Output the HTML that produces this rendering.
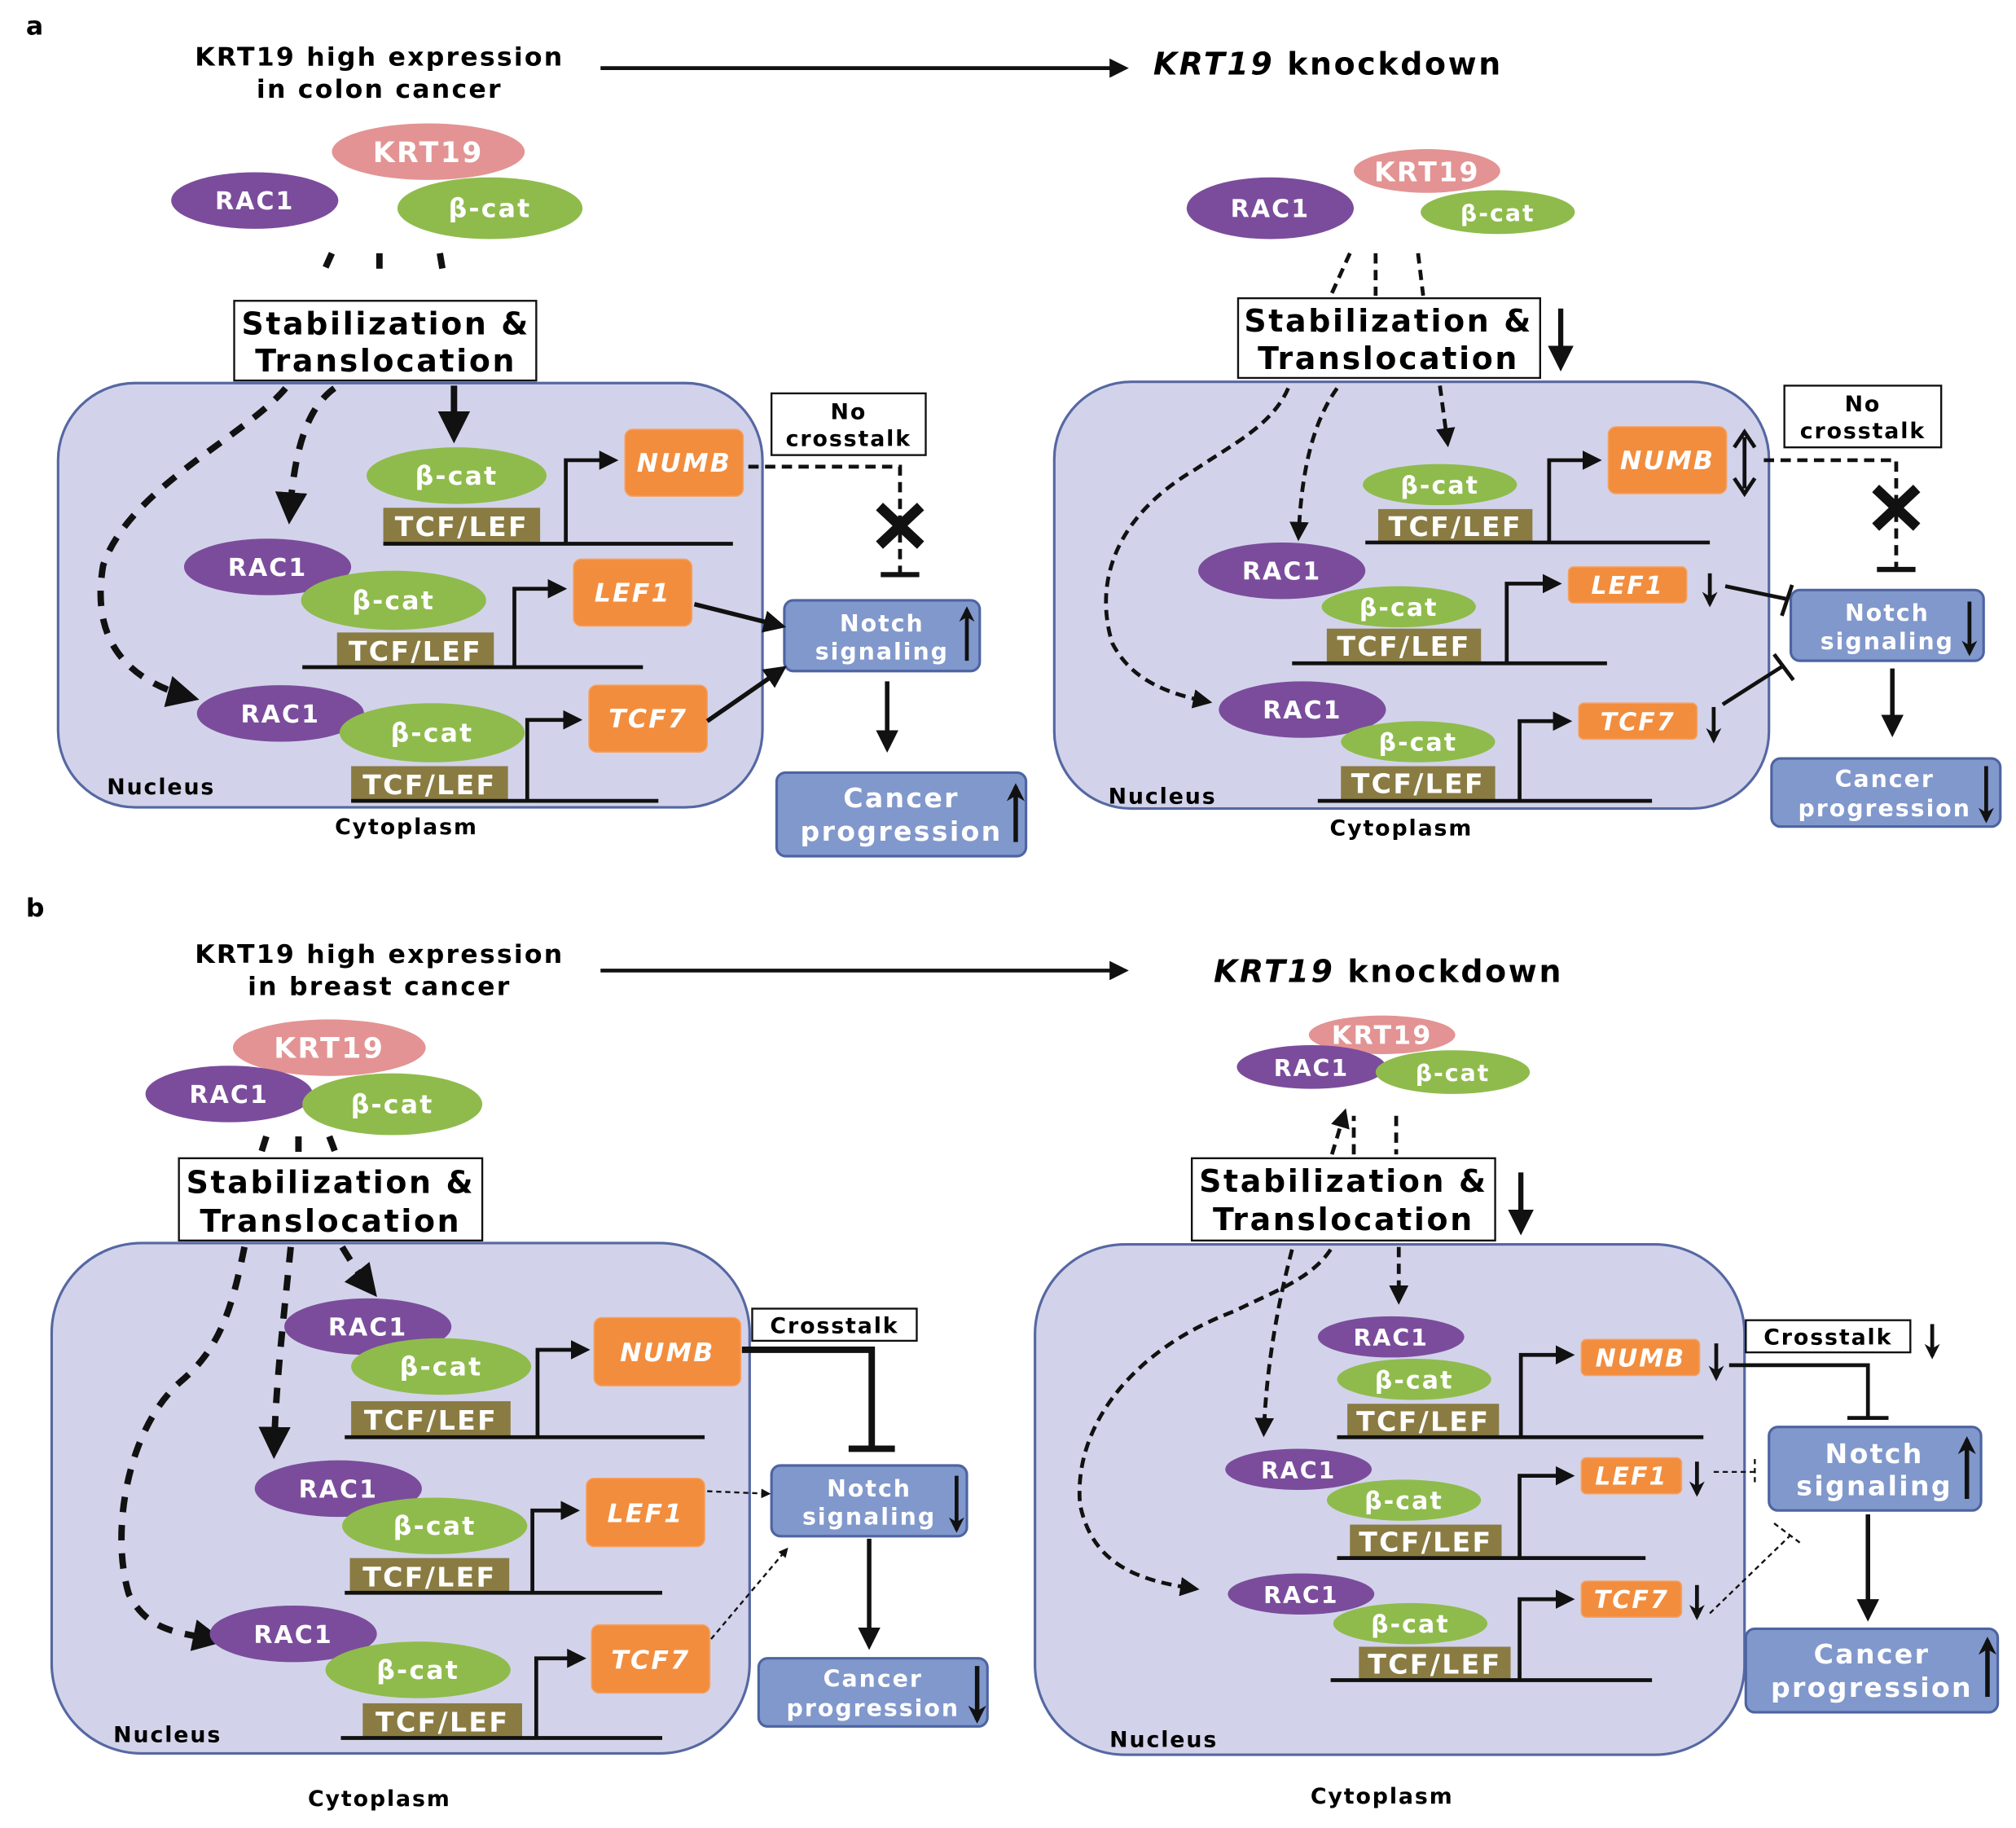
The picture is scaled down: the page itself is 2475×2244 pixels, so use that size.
<!DOCTYPE html>
<html><head><meta charset="utf-8"><style>
html,body{margin:0;padding:0;background:#fff}
svg{display:block}
text{font-family:"DejaVu Sans","Liberation Sans",sans-serif;font-weight:bold;letter-spacing:0.07em}
.nuc{fill:#d2d3ea;stroke:#5668a2;stroke-width:2}
.rac{fill:#7b4c9c}.bc{fill:#8fbb4c}.krt{fill:#e39393}
.tcf{fill:#8a7b42}
.org{fill:#f28d3e;stroke:#f6a060;stroke-width:1}
.blu{fill:#8198cc;stroke:#4d64a2;stroke-width:2}
.wt{fill:#fff}
.ln{stroke:#111;stroke-width:3;fill:none}
.ds{stroke:#111;stroke-width:5;fill:none;stroke-dasharray:12 10}
.ds2{stroke:#111;stroke-width:3;fill:none;stroke-dasharray:8 5}
.dt{stroke:#111;stroke-width:1.5;fill:none;stroke-dasharray:4 3}
.box{fill:#fff;stroke:#111;stroke-width:1.5}
</style></head><body>
<svg width="2475" height="2244" viewBox="0 0 1568 1422" xmlns="http://www.w3.org/2000/svg">
<defs>
<marker id="ah" viewBox="0 0 10 10" refX="8" refY="5" markerWidth="5" markerHeight="5" orient="auto"><path d="M0,0 L10,5 L0,10 z" fill="#111"/></marker>
<marker id="av" viewBox="0 0 10 10" refX="8" refY="5" markerWidth="4" markerHeight="4" orient="auto"><path d="M0,0 L10,5 L0,10 L3,5 z" fill="#111"/></marker>
</defs>

<!-- ===== PANEL A ===== -->
<text x="20" y="27" font-size="20">a</text>
<text x="295" y="51" font-size="20" text-anchor="middle">KRT19 high expression</text>
<text x="295" y="76" font-size="20" text-anchor="middle">in colon cancer</text>
<line x1="467" y1="53" x2="875" y2="53" class="ln" marker-end="url(#ah)"/>
<text x="897" y="58" font-size="24"><tspan font-style="italic">KRT19</tspan> knockdown</text>

<!-- a left -->
<ellipse cx="333" cy="118" rx="75" ry="22" class="krt"/><text x="333" y="126" font-size="22" class="wt" text-anchor="middle">KRT19</text>
<ellipse cx="198" cy="156" rx="65" ry="22" class="rac"/><text x="198" y="163" font-size="19" class="wt" text-anchor="middle">RAC1</text>
<ellipse cx="381" cy="162" rx="72" ry="24" class="bc"/><text x="381" y="169" font-size="20" class="wt" text-anchor="middle">β-cat</text>
<line x1="258" y1="197" x2="250" y2="215" class="ds"/>
<line x1="295" y1="197" x2="295" y2="215" class="ds"/>
<line x1="342" y1="197" x2="345" y2="215" class="ds"/>
<rect x="45" y="298" width="548" height="330" rx="60" class="nuc"/>
<rect x="182" y="234" width="235" height="62" class="box"/>
<text x="300" y="260" font-size="24" text-anchor="middle">Stabilization &amp;</text>
<text x="300" y="289" font-size="24" text-anchor="middle">Translocation</text>
<path d="M222,302 C190,340 100,380 80,440 C70,500 100,530 150,543" class="ds" marker-end="url(#ah)"/>
<path d="M260,302 C235,320 228,360 225,403" class="ds" marker-end="url(#ah)"/>
<line x1="353" y1="300" x2="353" y2="340" stroke="#111" stroke-width="5" marker-end="url(#ah)"/>

<ellipse cx="355" cy="370" rx="70" ry="22" class="bc"/><text x="355" y="377" font-size="20" class="wt" text-anchor="middle">β-cat</text>
<rect x="298" y="395" width="122" height="28" class="tcf"/><text x="359" y="417" font-size="21" class="wt" text-anchor="middle">TCF/LEF</text>
<line x1="298" y1="423" x2="570" y2="423" class="ln"/>
<path d="M440,423 V358 H478" class="ln" marker-end="url(#ah)"/>
<rect x="486" y="334" width="92" height="52" rx="6" class="org"/><text x="532" y="367" font-size="20" font-style="italic" class="wt" text-anchor="middle">NUMB</text>

<ellipse cx="208" cy="441" rx="65" ry="22" class="rac"/><text x="208" y="448" font-size="19" class="wt" text-anchor="middle">RAC1</text>
<ellipse cx="306" cy="467" rx="72" ry="23" class="bc"/><text x="306" y="474" font-size="20" class="wt" text-anchor="middle">β-cat</text>
<rect x="262" y="492" width="122" height="28" class="tcf"/><text x="323" y="514" font-size="21" class="wt" text-anchor="middle">TCF/LEF</text>
<line x1="235" y1="519" x2="500" y2="519" class="ln"/>
<path d="M400,519 V458 H438" class="ln" marker-end="url(#ah)"/>
<rect x="446" y="435" width="92" height="52" rx="6" class="org"/><text x="492" y="468" font-size="20" font-style="italic" class="wt" text-anchor="middle">LEF1</text>

<ellipse cx="218" cy="555" rx="65" ry="22" class="rac"/><text x="218" y="562" font-size="19" class="wt" text-anchor="middle">RAC1</text>
<ellipse cx="336" cy="570" rx="72" ry="23" class="bc"/><text x="336" y="577" font-size="20" class="wt" text-anchor="middle">β-cat</text>
<rect x="273" y="596" width="122" height="28" class="tcf"/><text x="334" y="618" font-size="21" class="wt" text-anchor="middle">TCF/LEF</text>
<line x1="273" y1="623" x2="512" y2="623" class="ln"/>
<path d="M410,623 V560 H450" class="ln" marker-end="url(#ah)"/>
<rect x="458" y="533" width="92" height="52" rx="6" class="org"/><text x="504" y="566" font-size="20" font-style="italic" class="wt" text-anchor="middle">TCF7</text>
<text x="83" y="618" font-size="17">Nucleus</text>
<text x="316" y="649" font-size="17" text-anchor="middle">Cytoplasm</text>

<rect x="600" y="306" width="120" height="48" class="box"/>
<text x="660" y="326" font-size="17" text-anchor="middle">No</text><text x="660" y="347" font-size="17" text-anchor="middle">crosstalk</text>
<path d="M582,363 H700 V447" class="ds2"/>
<line x1="685" y1="447" x2="715" y2="447" stroke="#111" stroke-width="4"/>
<path d="M684,394 L716,424 M716,394 L684,424" stroke="#111" stroke-width="8"/>
<rect x="610" y="467" width="152" height="55" rx="7" class="blu"/>
<text x="686" y="491" font-size="18" class="wt" text-anchor="middle">Notch</text><text x="686" y="513" font-size="18" class="wt" text-anchor="middle">signaling</text>
<line x1="752" y1="514" x2="752" y2="474" stroke="#111" stroke-width="3" marker-end="url(#av)"/>
<line x1="540" y1="470" x2="608" y2="487" stroke="#111" stroke-width="3.5" marker-end="url(#ah)"/>
<line x1="550" y1="561" x2="609" y2="520" stroke="#111" stroke-width="3.5" marker-end="url(#ah)"/>
<line x1="690" y1="530" x2="690" y2="582" stroke="#111" stroke-width="3.5" marker-end="url(#ah)"/>
<rect x="604" y="601" width="194" height="65" rx="7" class="blu"/>
<text x="701" y="628" font-size="21" class="wt" text-anchor="middle">Cancer</text><text x="701" y="654" font-size="21" class="wt" text-anchor="middle">progression</text>
<line x1="790" y1="655" x2="790" y2="612" stroke="#111" stroke-width="3.5" marker-end="url(#av)"/>

<!-- a right -->
<ellipse cx="1110" cy="133" rx="57" ry="17" class="krt"/><text x="1110" y="141" font-size="21" class="wt" text-anchor="middle">KRT19</text>
<ellipse cx="988" cy="162" rx="65" ry="24" class="rac"/><text x="988" y="169" font-size="19" class="wt" text-anchor="middle">RAC1</text>
<ellipse cx="1165" cy="165" rx="60" ry="17" class="bc"/><text x="1165" y="172" font-size="18" class="wt" text-anchor="middle">β-cat</text>
<line x1="1050" y1="197" x2="1036" y2="228" class="ds2" stroke-width="4"/>
<line x1="1070" y1="197" x2="1070" y2="230" class="ds2" stroke-width="4"/>
<line x1="1103" y1="197" x2="1107" y2="230" class="ds2" stroke-width="4"/>
<rect x="820" y="297" width="556" height="332" rx="60" class="nuc"/>
<rect x="963" y="232" width="235" height="62" class="box"/>
<text x="1080" y="258" font-size="24" text-anchor="middle">Stabilization &amp;</text>
<text x="1080" y="287" font-size="24" text-anchor="middle">Translocation</text>
<line x1="1214" y1="240" x2="1214" y2="285" stroke="#111" stroke-width="4" marker-end="url(#ah)"/>
<path d="M1002,302 C990,330 960,345 930,365 C870,400 850,450 865,500 C880,530 910,540 940,546" class="ds2" stroke-width="4" marker-end="url(#ah)"/>
<path d="M1040,302 C1020,330 1012,370 1010,418" class="ds2" stroke-width="4" marker-end="url(#ah)"/>
<line x1="1120" y1="300" x2="1126" y2="345" class="ds2" stroke-width="4" marker-end="url(#ah)"/>

<ellipse cx="1120" cy="377" rx="60" ry="16" class="bc"/><text x="1120" y="384" font-size="19" class="wt" text-anchor="middle">β-cat</text>
<rect x="1072" y="396" width="120" height="26" class="tcf"/><text x="1132" y="417" font-size="21" class="wt" text-anchor="middle">TCF/LEF</text>
<line x1="1062" y1="422" x2="1330" y2="422" class="ln"/>
<path d="M1205,422 V358 H1243" class="ln" marker-end="url(#ah)"/>
<rect x="1251" y="332" width="92" height="52" rx="6" class="org"/><text x="1297" y="365" font-size="20" font-style="italic" class="wt" text-anchor="middle">NUMB</text>
<path d="M1357,340 V380 M1349,348 L1357,336 L1365,348 M1349,372 L1357,384 L1365,372" stroke="#111" stroke-width="3" fill="none"/>

<ellipse cx="997" cy="444" rx="65" ry="22" class="rac"/><text x="997" y="451" font-size="19" class="wt" text-anchor="middle">RAC1</text>
<ellipse cx="1088" cy="472" rx="60" ry="16" class="bc"/><text x="1088" y="479" font-size="19" class="wt" text-anchor="middle">β-cat</text>
<rect x="1032" y="489" width="120" height="26" class="tcf"/><text x="1092" y="510" font-size="21" class="wt" text-anchor="middle">TCF/LEF</text>
<line x1="1005" y1="516" x2="1250" y2="516" class="ln"/>
<path d="M1172,516 V454 H1212" class="ln" marker-end="url(#ah)"/>
<rect x="1220" y="441" width="92" height="28" rx="4" class="org"/><text x="1266" y="462" font-size="19" font-style="italic" class="wt" text-anchor="middle">LEF1</text>
<line x1="1330" y1="446" x2="1330" y2="470" stroke="#111" stroke-width="3" marker-end="url(#av)"/>

<ellipse cx="1013" cy="552" rx="65" ry="22" class="rac"/><text x="1013" y="559" font-size="19" class="wt" text-anchor="middle">RAC1</text>
<ellipse cx="1103" cy="577" rx="60" ry="16" class="bc"/><text x="1103" y="584" font-size="19" class="wt" text-anchor="middle">β-cat</text>
<rect x="1043" y="596" width="120" height="26" class="tcf"/><text x="1103" y="617" font-size="21" class="wt" text-anchor="middle">TCF/LEF</text>
<line x1="1025" y1="623" x2="1285" y2="623" class="ln"/>
<path d="M1182,623 V561 H1220" class="ln" marker-end="url(#ah)"/>
<rect x="1228" y="547" width="92" height="28" rx="4" class="org"/><text x="1274" y="568" font-size="19" font-style="italic" class="wt" text-anchor="middle">TCF7</text>
<line x1="1333" y1="550" x2="1333" y2="576" stroke="#111" stroke-width="3" marker-end="url(#av)"/>
<text x="862" y="625" font-size="17">Nucleus</text>
<text x="1090" y="650" font-size="17" text-anchor="middle">Cytoplasm</text>

<rect x="1388" y="300" width="122" height="48" class="box"/>
<text x="1449" y="320" font-size="17" text-anchor="middle">No</text><text x="1449" y="341" font-size="17" text-anchor="middle">crosstalk</text>
<path d="M1372,358 H1475 V443" class="ds2"/>
<line x1="1460" y1="443" x2="1490" y2="443" stroke="#111" stroke-width="4"/>
<path d="M1459,380 L1491,410 M1491,380 L1459,410" stroke="#111" stroke-width="8"/>
<rect x="1393" y="459" width="150" height="55" rx="7" class="blu"/>
<text x="1468" y="483" font-size="18" class="wt" text-anchor="middle">Notch</text><text x="1468" y="505" font-size="18" class="wt" text-anchor="middle">signaling</text>
<line x1="1532" y1="468" x2="1532" y2="508" stroke="#111" stroke-width="3" marker-end="url(#av)"/>
<path d="M1342,456 L1390,466 M1394,455 L1386,479" stroke="#111" stroke-width="3" fill="none"/>
<path d="M1340,548 L1387,518 M1380,509 L1395,529" stroke="#111" stroke-width="3" fill="none"/>
<line x1="1472" y1="520" x2="1472" y2="570" stroke="#111" stroke-width="3.5" marker-end="url(#ah)"/>
<rect x="1378" y="590" width="178" height="53" rx="7" class="blu"/>
<text x="1466" y="612" font-size="18" class="wt" text-anchor="middle">Cancer</text><text x="1466" y="635" font-size="18" class="wt" text-anchor="middle">progression</text>
<line x1="1545" y1="596" x2="1545" y2="638" stroke="#111" stroke-width="3" marker-end="url(#av)"/>

<!-- ===== PANEL B ===== -->
<text x="20" y="713" font-size="20">b</text>
<text x="295" y="749" font-size="20" text-anchor="middle">KRT19 high expression</text>
<text x="295" y="774" font-size="20" text-anchor="middle">in breast cancer</text>
<line x1="467" y1="755" x2="875" y2="755" class="ln" marker-end="url(#ah)"/>
<text x="944" y="764" font-size="24"><tspan font-style="italic">KRT19</tspan> knockdown</text>

<!-- b left -->
<ellipse cx="256" cy="815" rx="75" ry="22" class="krt"/><text x="256" y="823" font-size="22" class="wt" text-anchor="middle">KRT19</text>
<ellipse cx="178" cy="851" rx="65" ry="22" class="rac"/><text x="178" y="858" font-size="19" class="wt" text-anchor="middle">RAC1</text>
<ellipse cx="305" cy="859" rx="70" ry="24" class="bc"/><text x="305" y="866" font-size="20" class="wt" text-anchor="middle">β-cat</text>
<line x1="207" y1="884" x2="202" y2="900" class="ds"/>
<line x1="232" y1="884" x2="232" y2="900" class="ds"/>
<line x1="256" y1="884" x2="262" y2="900" class="ds"/>
<rect x="40" y="967" width="543" height="397" rx="70" class="nuc"/>
<rect x="139" y="901" width="236" height="64" class="box"/>
<text x="257" y="928" font-size="24" text-anchor="middle">Stabilization &amp;</text>
<text x="257" y="958" font-size="24" text-anchor="middle">Translocation</text>
<path d="M190,970 C180,1020 170,1050 140,1075 C100,1110 85,1190 100,1240 C115,1270 140,1270 170,1276" class="ds" marker-end="url(#ah)"/>
<path d="M226,970 C220,1030 214,1080 213,1130" class="ds" marker-end="url(#ah)"/>
<path d="M266,970 C275,985 282,995 290,1005" class="ds" marker-end="url(#ah)"/>

<ellipse cx="286" cy="1032" rx="65" ry="22" class="rac"/><text x="286" y="1039" font-size="19" class="wt" text-anchor="middle">RAC1</text>
<ellipse cx="343" cy="1063" rx="70" ry="22" class="bc"/><text x="343" y="1070" font-size="20" class="wt" text-anchor="middle">β-cat</text>
<rect x="273" y="1090" width="124" height="28" class="tcf"/><text x="335" y="1112" font-size="21" class="wt" text-anchor="middle">TCF/LEF</text>
<line x1="268" y1="1118" x2="548" y2="1118" class="ln"/>
<path d="M418,1118 V1050 H456" class="ln" marker-end="url(#ah)"/>
<rect x="462" y="1025" width="114" height="53" rx="6" class="org"/><text x="519" y="1059" font-size="20" font-style="italic" class="wt" text-anchor="middle">NUMB</text>

<ellipse cx="263" cy="1158" rx="65" ry="22" class="rac"/><text x="263" y="1165" font-size="19" class="wt" text-anchor="middle">RAC1</text>
<ellipse cx="338" cy="1187" rx="72" ry="22" class="bc"/><text x="338" y="1194" font-size="20" class="wt" text-anchor="middle">β-cat</text>
<rect x="272" y="1212" width="124" height="28" class="tcf"/><text x="334" y="1234" font-size="21" class="wt" text-anchor="middle">TCF/LEF</text>
<line x1="268" y1="1239" x2="515" y2="1239" class="ln"/>
<path d="M414,1239 V1175 H448" class="ln" marker-end="url(#ah)"/>
<rect x="456" y="1150" width="92" height="53" rx="6" class="org"/><text x="502" y="1184" font-size="20" font-style="italic" class="wt" text-anchor="middle">LEF1</text>

<ellipse cx="228" cy="1271" rx="65" ry="22" class="rac"/><text x="228" y="1278" font-size="19" class="wt" text-anchor="middle">RAC1</text>
<ellipse cx="325" cy="1299" rx="72" ry="22" class="bc"/><text x="325" y="1306" font-size="20" class="wt" text-anchor="middle">β-cat</text>
<rect x="282" y="1325" width="124" height="28" class="tcf"/><text x="344" y="1347" font-size="21" class="wt" text-anchor="middle">TCF/LEF</text>
<line x1="265" y1="1352" x2="515" y2="1352" class="ln"/>
<path d="M417,1352 V1290 H453" class="ln" marker-end="url(#ah)"/>
<rect x="460" y="1264" width="92" height="53" rx="6" class="org"/><text x="506" y="1298" font-size="20" font-style="italic" class="wt" text-anchor="middle">TCF7</text>
<text x="88" y="1355" font-size="17">Nucleus</text>
<text x="295" y="1405" font-size="17" text-anchor="middle">Cytoplasm</text>

<rect x="585" y="1018" width="128" height="25" class="box"/>
<text x="649" y="1037" font-size="17" text-anchor="middle">Crosstalk</text>
<path d="M577,1050 H678 V1127" stroke="#111" stroke-width="5" fill="none"/>
<line x1="660" y1="1127" x2="696" y2="1127" stroke="#111" stroke-width="5"/>
<rect x="600" y="1140" width="152" height="55" rx="7" class="blu"/>
<text x="676" y="1164" font-size="18" class="wt" text-anchor="middle">Notch</text><text x="676" y="1186" font-size="18" class="wt" text-anchor="middle">signaling</text>
<line x1="744" y1="1148" x2="744" y2="1190" stroke="#111" stroke-width="3" marker-end="url(#av)"/>
<line x1="550" y1="1160" x2="598" y2="1162" class="dt" marker-end="url(#ah)"/>
<line x1="553" y1="1275" x2="612" y2="1205" class="dt" marker-end="url(#ah)"/>
<line x1="676" y1="1197" x2="676" y2="1280" stroke="#111" stroke-width="3.5" marker-end="url(#ah)"/>
<rect x="590" y="1290" width="178" height="53" rx="7" class="blu"/>
<text x="679" y="1312" font-size="18" class="wt" text-anchor="middle">Cancer</text><text x="679" y="1335" font-size="18" class="wt" text-anchor="middle">progression</text>
<line x1="760" y1="1296" x2="760" y2="1338" stroke="#111" stroke-width="3.5" marker-end="url(#av)"/>

<!-- b right -->
<ellipse cx="1075" cy="805" rx="57" ry="15" class="krt"/><text x="1075" y="812" font-size="20" class="wt" text-anchor="middle">KRT19</text>
<ellipse cx="1020" cy="830" rx="58" ry="17" class="rac"/><text x="1020" y="837" font-size="18" class="wt" text-anchor="middle">RAC1</text>
<ellipse cx="1130" cy="834" rx="60" ry="17" class="bc"/><text x="1130" y="841" font-size="18" class="wt" text-anchor="middle">β-cat</text>
<line x1="1036" y1="898" x2="1046" y2="865" class="ds2" stroke-width="4" marker-end="url(#ah)"/>
<line x1="1053" y1="898" x2="1053" y2="868" class="ds2" stroke-width="4"/>
<line x1="1086" y1="868" x2="1086" y2="898" class="ds2" stroke-width="4"/>
<rect x="805" y="968" width="552" height="397" rx="70" class="nuc"/>
<rect x="927" y="901" width="236" height="64" class="box"/>
<text x="1045" y="927" font-size="24" text-anchor="middle">Stabilization &amp;</text>
<text x="1045" y="957" font-size="24" text-anchor="middle">Translocation</text>
<line x1="1183" y1="912" x2="1183" y2="957" stroke="#111" stroke-width="4" marker-end="url(#ah)"/>
<path d="M1035,972 C1020,995 990,1005 960,1020 C880,1050 835,1110 840,1170 C850,1220 890,1230 930,1236" class="ds2" stroke-width="4" marker-end="url(#ah)"/>
<path d="M1005,972 C995,1010 985,1060 983,1115" class="ds2" stroke-width="4" marker-end="url(#ah)"/>
<line x1="1088" y1="970" x2="1088" y2="1012" class="ds2" stroke-width="4" marker-end="url(#ah)"/>

<ellipse cx="1082" cy="1040" rx="57" ry="16" class="rac"/><text x="1082" y="1047" font-size="18" class="wt" text-anchor="middle">RAC1</text>
<ellipse cx="1100" cy="1073" rx="60" ry="16" class="bc"/><text x="1100" y="1080" font-size="19" class="wt" text-anchor="middle">β-cat</text>
<rect x="1048" y="1092" width="118" height="26" class="tcf"/><text x="1107" y="1113" font-size="21" class="wt" text-anchor="middle">TCF/LEF</text>
<line x1="1040" y1="1118" x2="1325" y2="1118" class="ln"/>
<path d="M1183,1118 V1054 H1222" class="ln" marker-end="url(#ah)"/>
<rect x="1230" y="1042" width="92" height="28" rx="4" class="org"/><text x="1276" y="1063" font-size="19" font-style="italic" class="wt" text-anchor="middle">NUMB</text>
<line x1="1335" y1="1045" x2="1335" y2="1072" stroke="#111" stroke-width="3" marker-end="url(#av)"/>

<ellipse cx="1010" cy="1143" rx="57" ry="16" class="rac"/><text x="1010" y="1150" font-size="18" class="wt" text-anchor="middle">RAC1</text>
<ellipse cx="1092" cy="1167" rx="60" ry="16" class="bc"/><text x="1092" y="1174" font-size="19" class="wt" text-anchor="middle">β-cat</text>
<rect x="1050" y="1186" width="118" height="26" class="tcf"/><text x="1109" y="1207" font-size="21" class="wt" text-anchor="middle">TCF/LEF</text>
<line x1="1040" y1="1212" x2="1280" y2="1212" class="ln"/>
<path d="M1182,1212 V1148 H1222" class="ln" marker-end="url(#ah)"/>
<rect x="1230" y="1134" width="78" height="28" rx="4" class="org"/><text x="1269" y="1155" font-size="19" font-style="italic" class="wt" text-anchor="middle">LEF1</text>
<line x1="1320" y1="1137" x2="1320" y2="1162" stroke="#111" stroke-width="3" marker-end="url(#av)"/>

<ellipse cx="1012" cy="1240" rx="57" ry="16" class="rac"/><text x="1012" y="1247" font-size="18" class="wt" text-anchor="middle">RAC1</text>
<ellipse cx="1097" cy="1263" rx="60" ry="16" class="bc"/><text x="1097" y="1270" font-size="19" class="wt" text-anchor="middle">β-cat</text>
<rect x="1057" y="1281" width="118" height="26" class="tcf"/><text x="1116" y="1302" font-size="21" class="wt" text-anchor="middle">TCF/LEF</text>
<line x1="1035" y1="1307" x2="1285" y2="1307" class="ln"/>
<path d="M1182,1307 V1244 H1222" class="ln" marker-end="url(#ah)"/>
<rect x="1230" y="1230" width="78" height="28" rx="4" class="org"/><text x="1269" y="1251" font-size="19" font-style="italic" class="wt" text-anchor="middle">TCF7</text>
<line x1="1320" y1="1233" x2="1320" y2="1258" stroke="#111" stroke-width="3" marker-end="url(#av)"/>
<text x="863" y="1359" font-size="17">Nucleus</text>
<text x="1075" y="1403" font-size="17" text-anchor="middle">Cytoplasm</text>

<rect x="1358" y="1027" width="128" height="25" class="box"/>
<text x="1422" y="1046" font-size="17" text-anchor="middle">Crosstalk</text>
<line x1="1503" y1="1030" x2="1503" y2="1055" stroke="#111" stroke-width="3" marker-end="url(#av)"/>
<path d="M1345,1062 H1453 V1103" stroke="#111" stroke-width="3" fill="none"/>
<line x1="1437" y1="1103" x2="1469" y2="1103" stroke="#111" stroke-width="3"/>
<rect x="1376" y="1110" width="165" height="65" rx="7" class="blu"/>
<text x="1458" y="1138" font-size="21" class="wt" text-anchor="middle">Notch</text><text x="1458" y="1163" font-size="21" class="wt" text-anchor="middle">signaling</text>
<line x1="1530" y1="1166" x2="1530" y2="1120" stroke="#111" stroke-width="3.5" marker-end="url(#av)"/>
<path d="M1333,1145 H1365 M1365,1135 V1155" class="dt"/>
<path d="M1330,1255 L1392,1195 M1380,1185 L1400,1200" class="dt"/>
<line x1="1453" y1="1178" x2="1453" y2="1258" stroke="#111" stroke-width="3.5" marker-end="url(#ah)"/>
<rect x="1358" y="1267" width="196" height="65" rx="7" class="blu"/>
<text x="1456" y="1294" font-size="21" class="wt" text-anchor="middle">Cancer</text><text x="1456" y="1320" font-size="21" class="wt" text-anchor="middle">progression</text>
<line x1="1546" y1="1320" x2="1546" y2="1276" stroke="#111" stroke-width="3.5" marker-end="url(#av)"/>
</svg>
</body></html>
